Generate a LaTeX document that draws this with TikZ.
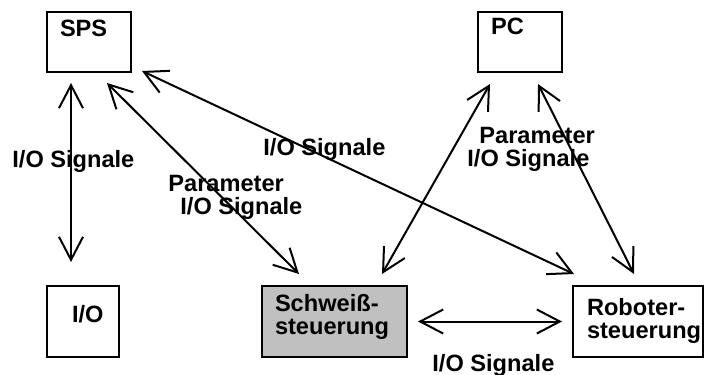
\documentclass[tikz,border=0pt]{standalone}
\usepackage{fontspec}
\setmainfont{Liberation Sans}
\usetikzlibrary{arrows.meta}
\definecolor{swgray}{RGB}{192,192,192}

\begin{document}
\begin{tikzpicture}[
  x=0.5pt,y=-0.5pt,
  tag/.style={
    draw=none,
    inner sep=0pt,
    minimum width=0pt,
    minimum height=0pt,
    anchor=north west,
    align=left,
    font=\fontsize{11.8pt}{11.5pt}\selectfont\bfseries,
  },
  ]
  \useasboundingbox (0,0) rectangle (705,374);
  \begin{scope}[
    every node/.style={
      draw,
      line width=1pt,
      inner sep=0pt,
      outer sep=0pt,
      minimum height=35.5pt,
    },
    ]
    \node[minimum width=42pt, minimum height=30pt,
      label={[tag, xshift=6.5pt, yshift=-4pt]north west:SPS}] (sps) at (89,42) {};
    \node[minimum width=42pt, minimum height=30pt,
      label={[tag, xshift=6.5pt, yshift=-3pt]north west:PC}] (pc) at (520,42) {};
    \node[minimum width=36pt,
      label={[tag, xshift=12.5pt, yshift=-9.5pt]north west:I/O}] (io) at (83,321.5) {};
    \node[minimum width=72.5pt, fill=swgray,
      label={[tag, xshift=6.5pt, yshift=-4pt]north west:Schweiß-\\steuerung}] (sw) at (334.5,321.5) {};
    \node[minimum width=65pt,
      label={[tag, xshift=7pt, yshift=-6pt]north west:Roboter-\\steuerung}] (rob) at (638,321.5) {};
  \end{scope}
  \begin{scope}[every path/.style={draw,line width=1pt,>={Straight Barb[length=11.5pt,width=12pt]}}]
    \foreach \a/\ax/\ay/\b/\bx/\by in {
      sps.south west/24/11/io.north west/24/-24,
      sps.south west/60/11/sw.north west/37/-12,
      sps.south east/11/-1/rob.north west/1/-12,
      pc.south west/12/12/sw.north east/-25/-12,
      pc.south west/60/12/rob.north west/61/-12,
      sw.east/11/0/rob.west/-11/0}{
      \path[<->] ([shift={(\ax,\ay)}]\a) -- ([shift={(\bx,\by)}]\b);
    }
  \end{scope}
  \begin{scope}[every node/.style={tag}]
    \node (sig-io) at (12,150) {I/O Signale};
    \node (sig-mid) at (263,138) {I/O Signale};
    \node (par-sw) at (168,175) {Parameter\\\hspace*{6pt}I/O Signale};
    \node (par-rob) at (467,127) {\hspace*{6pt}Parameter\\I/O Signale};
    \node (sig-bot) at (432,354) {I/O Signale};
  \end{scope}
\end{tikzpicture}
\end{document}
